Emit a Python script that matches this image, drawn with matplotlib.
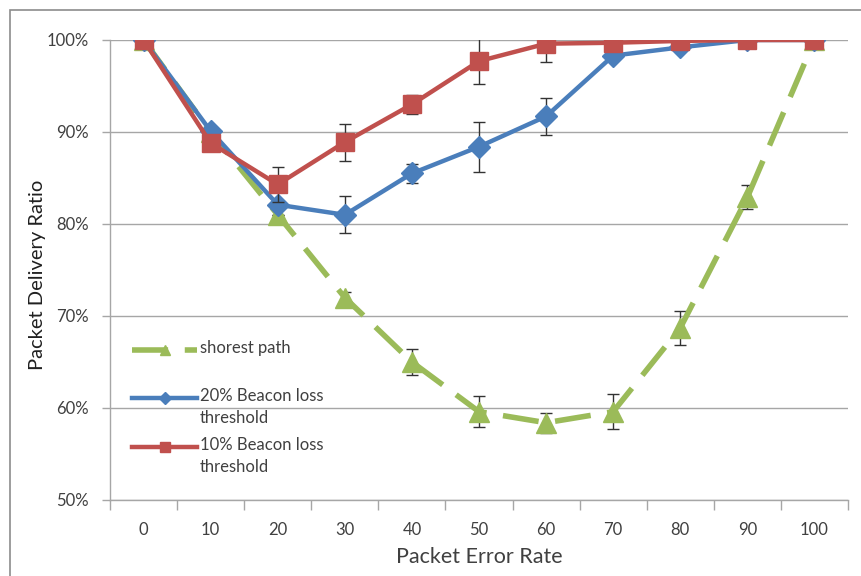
import matplotlib
matplotlib.use("Agg")
import matplotlib.pyplot as plt
from matplotlib.patches import Rectangle
from matplotlib.lines import Line2D
from matplotlib.ticker import FuncFormatter, FixedLocator, NullFormatter

plt.rcParams['font.family'] = ['Lato', 'DejaVu Sans']

# data
per = [0, 10, 20, 30, 40, 50, 60, 70, 80, 90, 100]
shortest = [100, 90.0, 81.0, 72.0, 65.0, 59.6, 58.4, 59.6, 68.7, 82.9, 100]
shortest_err = [0, 0, 0, 0.6, 1.4, 1.7, 1.1, 1.9, 1.8, 1.3, 0]
beacon20 = [100, 90.1, 82.1, 81.0, 85.5, 88.4, 91.7, 98.3, 99.2, 100, 100]
beacon20_err = [0, 0, 0, 2.0, 1.0, 2.7, 2.0, 0, 0, 0, 0]
beacon10 = [100, 88.8, 84.3, 88.9, 93.0, 97.7, 99.6, 99.7, 99.9, 100, 100]
beacon10_err = [0, 0, 1.9, 2.0, 1.0, 2.5, 2.0, 0, 0, 0, 0]
labels = ["shorest path", "20% Beacon loss\nthreshold", "10% Beacon loss\nthreshold"]

green = "#9BBB59"
blue = "#4A7EBB"
red = "#C0504D"
grid_c = "#A6A6A6"
text_c = "#404040"

W, H = 862, 576
fig = plt.figure(figsize=(W / 100, H / 100), dpi=100)
ax = fig.add_axes([110 / W, 1 - 500 / H, 738 / W, 460 / H])

# chart area border (cut off on the right and bottom like the screenshot)
fig.patches.append(Rectangle((10 / W, -0.05), 2.0, 1 - 10 / H + 0.05,
                             transform=fig.transFigure, fill=False,
                             edgecolor="#8C8C8C", linewidth=1.2))

xs = list(range(len(per)))
styles = [
    dict(color=green, linewidth=4, dashes=(6.5, 3), marker="^", markersize=14),
    dict(color=blue, linewidth=3.2, marker="D", markersize=11),
    dict(color=red, linewidth=3.2, marker="s", markersize=13),
]
series = [(shortest, shortest_err), (beacon20, beacon20_err), (beacon10, beacon10_err)]

for k, ((ys, err), st) in enumerate(zip(series, styles)):
    ax.errorbar(xs, ys, yerr=err, ecolor="#333333", elinewidth=1,
                capsize=4, capthick=1, zorder=3 + k, **st)

ax.set_xlim(-0.5, len(per) - 0.5)
ax.set_ylim(50, 100)
ax.set_yticks(range(50, 101, 10))
ax.yaxis.set_major_formatter(FuncFormatter(lambda v, p: f"{int(v)}%"))
ax.grid(axis="y", color=grid_c, linewidth=1)
ax.set_axisbelow(True)

# category axis: tick marks between categories, labels at centres
ax.xaxis.set_major_locator(FixedLocator([i - 0.5 for i in range(len(per) + 1)]))
ax.xaxis.set_major_formatter(NullFormatter())
ax.xaxis.set_minor_locator(FixedLocator(xs))
ax.set_xticklabels([str(p) for p in per], minor=True)
ax.tick_params(axis="x", which="major", length=7, color=grid_c, width=1)
ax.tick_params(axis="x", which="minor", length=0, pad=16,
               labelsize=12, labelcolor=text_c)
ax.tick_params(axis="y", length=6, color=grid_c, width=1, pad=9,
               labelsize=12, labelcolor=text_c)

for s in ("top", "right"):
    ax.spines[s].set_visible(False)
for s in ("left", "bottom"):
    ax.spines[s].set_color(grid_c)
    ax.spines[s].set_linewidth(1)

ax.set_xlabel("Packet Error Rate", fontsize=15.5, color=text_c, labelpad=6)
ax.set_ylabel("Packet Delivery Ratio", fontsize=14.5, color="#202020")
ax.yaxis.set_label_coords(-64 / 738, 225 / 460)

# legend drawn by hand so the handle sits on the first text line (Excel style)
leg_rows = [350, 398, 447]
for lab, st, yrow in zip(labels, styles, leg_rows):
    yf = 1 - yrow / H
    st2 = dict(st)
    st2["markersize"] = st["markersize"] * 0.55
    line = Line2D([132 / W, 165 / W, 197 / W], [yf, yf, yf],
                  transform=fig.transFigure, markevery=[1], **st2)
    fig.lines.append(line)
    fig.text(200 / W, yf + 10 / H, lab, fontsize=12, color=text_c, va="top",
             linespacing=1.45, transform=fig.transFigure)

fig.savefig("out.png", dpi=100)
